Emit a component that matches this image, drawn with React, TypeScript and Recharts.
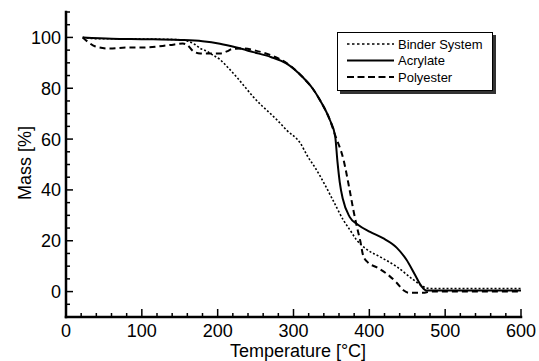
import React from "react";
import { LineChart, Line, XAxis, YAxis } from "recharts";

// Thermogravimetric curves (temperature in °C, mass in %)
const binderTemp = [22, 40, 100, 150, 160, 170, 177, 186, 194, 203, 214, 225, 236, 247, 258, 269, 280, 291, 309, 319, 328, 335, 352, 366, 375, 383, 397, 414, 436, 458, 471, 480, 600];
const binderMass = [100, 99.5, 99.4, 99.1, 98.6, 97.2, 95.7, 94.5, 93, 91.3, 88, 84.4, 80.5, 76.6, 73.2, 70.2, 67, 63.5, 58.4, 53, 49, 45.5, 36, 28, 24, 20.4, 16.5, 13.7, 9.8, 4.7, 2, 1.2, 1.2];

const acrylateTemp = [22, 60, 100, 150, 180, 203, 225, 247, 270, 291, 312, 325, 335, 348, 355, 358, 361, 365, 374, 385, 401, 418, 436, 449, 460, 469, 475, 600];
const acrylateMass = [100, 99.5, 99.3, 99, 98.5, 97.5, 96, 94.2, 92.3, 89.7, 84.4, 80, 75.3, 67.5, 61, 51, 43, 36.5, 29.4, 26.3, 23.5, 21, 17.3, 12.5, 6.7, 2, 0.4, 0.4];

const polyesterTemp = [22, 30, 38, 58, 80, 101, 137, 154, 160, 168, 177, 203, 212, 220, 235, 250, 270, 291, 312, 325, 335, 348, 355, 366, 374, 379, 384, 388, 392, 398, 410, 423, 436, 445, 452, 471, 480, 600];
const polyesterMass = [100, 98, 96.5, 95.6, 96, 96, 97, 97.6, 97, 94.5, 93.7, 93.7, 94.5, 95.5, 95.6, 94.8, 93, 89.9, 84.4, 80, 75.3, 67.5, 61.5, 51.8, 40, 32, 25, 20, 14, 11.5, 9.5, 7, 3.5, 0.5, -0.5, -0.5, 0, 0];

const xTicks = [0, 20, 40, 60, 80, 100, 120, 140, 160, 180, 200, 220, 240, 260, 280, 300, 320, 340, 360, 380, 400, 420, 440, 460, 480, 500, 520, 540, 560, 580, 600];
const yTicks = [-10, -5, 0, 5, 10, 15, 20, 25, 30, 35, 40, 45, 50, 55, 60, 65, 70, 75, 80, 85, 90, 95, 100, 105, 110];

const seriesNames = ["Binder System", "Acrylate", "Polyester"];
const seriesDash = ["2 2", "", "6 4"];
const seriesWidth = [1.6, 2, 2];

const toPoints = (temps: number[], mass: number[]) =>
  temps.map((t, i) => ({ t, m: mass[i] }));

const seriesData = [
  toPoints(binderTemp, binderMass),
  toPoints(acrylateTemp, acrylateMass),
  toPoints(polyesterTemp, polyesterMass),
];

const FONT = '"Liberation Sans", Arial, Helvetica, sans-serif';

const XTick = (props: any) => {
  const { x, y, payload } = props;
  const major = payload.value % 100 === 0;
  return (
    <g>
      <line x1={x} x2={x} y1={y} y2={y - (major ? 8 : 4)} stroke="#000" strokeWidth={1.5} />
      {major && (
        <text x={x} y={y + 19.5} textAnchor="middle" fontSize={18} fontFamily={FONT} fill="#000">
          {payload.value}
        </text>
      )}
    </g>
  );
};

const YTick = (props: any) => {
  const { x, y, payload } = props;
  const v = payload.value;
  const major = v % 20 === 0 && v >= 0 && v <= 100;
  return (
    <g>
      <line x1={x} x2={x + (major ? 7 : 4)} y1={y} y2={y} stroke="#000" strokeWidth={1.5} />
      {major && (
        <text x={x - 5} y={y + 6.5} textAnchor="end" fontSize={18} fontFamily={FONT} fill="#000">
          {v}
        </text>
      )}
    </g>
  );
};

// legend drawn as a separate box over the chart so it takes no room from the plot
const LegendBox = () => (
  <div
    style={{
      position: "absolute",
      left: 337,
      top: 32,
      width: 156,
      height: 59,
      boxSizing: "border-box",
      border: "1px solid #000",
      background: "#fff",
      boxShadow: "3px 3px 0 #333",
    }}
  >
    <svg width={154} height={57} style={{ display: "block" }}>
      {seriesNames.map((name, i) => {
        const cy = 11 + i * 16.5;
        return (
          <g key={name}>
            <line
              x1={9}
              x2={56}
              y1={cy}
              y2={cy}
              stroke="#000"
              strokeWidth={seriesWidth[i]}
              strokeDasharray={i === 0 ? "2.5 2.5" : seriesDash[i] === "" ? undefined : "7 3.5"}
            />
            <text x={60} y={cy + 4.5} fontSize={13} fontFamily={FONT} fill="#000">
              {name}
            </text>
          </g>
        );
      })}
    </svg>
  </div>
);

export default function App() {
  return (
    <div style={{ position: "absolute", left: 0, top: 0, width: 539, height: 361, background: "#fff" }}>
      <LineChart width={539} height={361} margin={{ top: 12, right: 18, bottom: 0, left: 0 }}>
        <XAxis
          dataKey="t"
          type="number"
          domain={[0, 600]}
          ticks={xTicks}
          interval={0}
          allowDuplicatedCategory={false}
          tickSize={0}
          tickMargin={0}
          tickLine={false}
          tick={<XTick />}
          height={44}
          axisLine={{ stroke: "#000", strokeWidth: 2.5, strokeLinecap: "square" }}
          label={() => (
            <text x={298} y={357} textAnchor="middle" fontSize={18} fontFamily={FONT} fill="#000">
              Temperature [°C]
            </text>
          )}
        />
        <YAxis
          type="number"
          domain={[-10, 110]}
          ticks={yTicks}
          interval={0}
          tickSize={0}
          tickMargin={0}
          tickLine={false}
          tick={<YTick />}
          width={66}
          axisLine={{ stroke: "#000", strokeWidth: 2.5, strokeLinecap: "square" }}
          label={() => (
            <text
              x={31}
              y={163}
              transform="rotate(-90, 31, 163)"
              textAnchor="middle"
              fontSize={18}
              fontFamily={FONT}
              fill="#000"
            >
              Mass [%]
            </text>
          )}
        />
        {seriesNames.map((name, i) => (
          <Line
            key={name}
            name={name}
            data={seriesData[i]}
            dataKey="m"
            type="monotone"
            stroke="#000"
            strokeWidth={seriesWidth[i]}
            strokeDasharray={seriesDash[i] || undefined}
            dot={false}
            activeDot={false}
            isAnimationActive={false}
          />
        ))}
      </LineChart>
      <LegendBox />
    </div>
  );
}
